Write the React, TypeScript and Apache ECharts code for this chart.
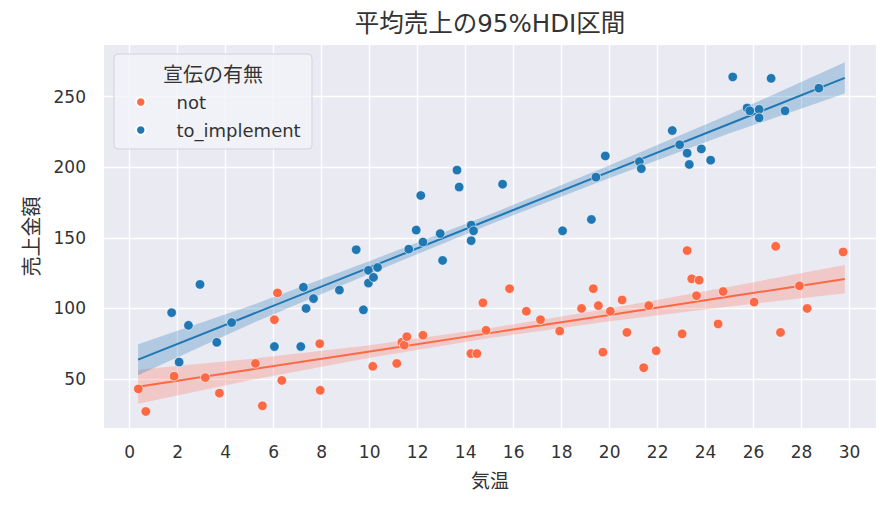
import React, { useEffect, useRef } from "react";
import * as echarts from "echarts";

// ---- data ----
const notX = [0.36, 0.67, 1.85, 3.15, 3.74, 5.24, 5.53, 6.03, 6.16, 6.34, 7.92, 7.94, 10.13, 11.13, 11.34, 11.44, 11.55, 12.22, 14.22, 14.47, 14.72, 14.85, 15.83, 16.53, 17.12, 17.92, 18.83, 19.32, 19.53, 19.72, 20.03, 20.52, 20.72, 21.42, 21.63, 21.94, 23.02, 23.23, 23.42, 23.62, 23.73, 24.52, 24.73, 26.02, 26.92, 27.12, 27.91, 28.23, 29.73];
const notY = [43, 27, 52, 51, 40, 61, 31, 92, 111, 49, 75, 42, 59, 61, 76, 74, 80, 81, 68, 68, 104, 84.5, 114, 98, 92, 84, 100, 114, 102, 69, 98, 106, 83, 58, 102, 70, 82, 141, 121, 109, 120, 89, 112, 104.5, 144, 83, 116, 100, 140];

const implX = [1.75, 2.06, 2.45, 2.93, 3.63, 4.25, 6.03, 7.13, 7.24, 7.35, 7.66, 8.74, 9.44, 9.74, 9.95, 9.95, 10.16, 10.33, 11.63, 11.94, 12.13, 12.22, 12.94, 13.04, 13.64, 13.73, 14.23, 14.23, 14.33, 15.54, 18.04, 19.24, 19.43, 19.82, 21.24, 21.32, 22.61, 22.92, 23.23, 23.32, 23.82, 24.21, 25.13, 25.73, 25.84, 26.23, 26.23, 26.73, 27.31, 28.72];
const implY = [97, 62, 88, 117, 76, 90, 73, 73, 115, 100, 107, 113, 141.6, 99, 127, 118, 122, 129, 142, 155.5, 180, 147, 153, 134, 198, 186, 159, 148, 155, 188, 155, 163, 193, 208, 204, 199, 226, 216, 210, 202, 213, 205, 264, 242, 240, 241, 235, 263, 240, 256];

const fitX = [0.35, 5, 10, 15, 20, 25, 29.8];
const implMean = [63.7, 95.2, 129.1, 163, 196.9, 230.8, 263.3];
const implLo = [52.7, 88.7, 124.6, 159.5, 192.4, 224, 252.3];
const implHi = [74.7, 101.7, 133.6, 166.5, 201.4, 237.5, 274.3];
const notMean = [44.5, 56.6, 69.5, 82.5, 95.4, 108.4, 120.8];
const notLo = [32.5, 49.1, 65, 79, 90.9, 101.4, 110.8];
const notHi = [56.5, 64.1, 74, 86, 99.9, 115.4, 130.8];

const xTicks = [0, 2, 4, 6, 8, 10, 12, 14, 16, 18, 20, 22, 24, 26, 28, 30];
const yTicks = [50, 100, 150, 200, 250];

const seriesNames = ["not", "to_implement"];
const titleText = "平均売上の95%HDI区間";
const legendTitle = "宣伝の有無";
const xName = "気温";
const yName = "売上金額";

const RED = "#fd6845";
const BLUE = "#1f77b4";
const FONT = "'DejaVu Sans', 'Noto Sans CJK JP', sans-serif";
const TEXT = "#333333";

function bandSeries(name: string, lo: number[], hi: number[], color: string) {
  const data = fitX.map((x, i) => [x, lo[i], hi[i]]);
  return {
    type: "custom",
    name,
    silent: true,
    z: 1,
    data,
    encode: { x: 0, y: [1, 2] },
    renderItem: (params: any, api: any) => {
      if (params.dataIndex !== 0) return null;
      const upper = data.map((d) => api.coord([d[0], d[2]]));
      const lower = data.map((d) => api.coord([d[0], d[1]])).reverse();
      return {
        type: "polygon",
        shape: { points: upper.concat(lower) },
        style: { fill: color },
      };
    },
  };
}

export default function App() {
  const ref = useRef<HTMLDivElement>(null);

  useEffect(() => {
    if (!ref.current) return;
    const chart = echarts.init(ref.current, undefined, { renderer: "svg" });
    const option: any = {
      animation: false,
      textStyle: { fontFamily: FONT },
      title: {
        text: titleText,
        left: 490,
        top: 11,
        padding: 0,
        textAlign: "center",
        textStyle: { fontSize: 24.5, fontWeight: "normal", color: TEXT, fontFamily: FONT },
      },
      grid: {
        left: 104,
        right: 20,
        top: 45,
        bottom: 78,
        show: true,
        backgroundColor: "#EAEAF2",
        borderWidth: 0,
      },
      xAxis: {
        type: "value",
        min: -1.07,
        max: 31.1,
        name: xName,
        nameLocation: "middle",
        nameGap: 43,
        nameTextStyle: { fontSize: 19, color: TEXT, fontFamily: FONT },
        axisLine: { show: false },
        axisTick: { show: false, customValues: xTicks },
        axisLabel: { customValues: xTicks, fontSize: 17, color: TEXT, margin: 15, fontFamily: FONT },
        splitLine: { show: true, lineStyle: { color: "#ffffff", width: 1.3 } },
      },
      yAxis: {
        type: "value",
        min: 15.3,
        max: 286.6,
        name: yName,
        nameLocation: "middle",
        nameGap: 62,
        nameTextStyle: { fontSize: 20, color: TEXT, fontFamily: FONT },
        axisLine: { show: false },
        axisTick: { show: false, customValues: yTicks },
        axisLabel: { customValues: yTicks, fontSize: 17, color: TEXT, margin: 18, fontFamily: FONT },
        splitLine: { show: true, lineStyle: { color: "#ffffff", width: 1.3 } },
      },
      legend: {
        data: seriesNames.map((n) => ({ name: n, icon: "circle" })),
        orient: "vertical",
        left: 135,
        top: 93,
        padding: 0,
        itemWidth: 9.5,
        itemHeight: 9.5,
        itemGap: 10,
        z: 10,
        textStyle: { fontSize: 18, color: TEXT, fontFamily: FONT, padding: [0, 0, 0, 26], lineHeight: 18 },
      },
      graphic: [
        {
          type: "rect",
          z: 9,
          shape: { x: 114, y: 54, width: 198, height: 95, r: 4 },
          style: { fill: "rgba(242,243,248,0.85)", stroke: "#d2d3db", lineWidth: 1 },
        },
        {
          type: "text",
          z: 10,
          x: 213,
          y: 75,
          style: {
            text: legendTitle,
            fontSize: 20,
            fontFamily: FONT,
            fill: TEXT,
            align: "center",
            verticalAlign: "middle",
          },
        },
      ],
      series: [
        bandSeries("not HDI", notLo, notHi, "rgba(255,99,71,0.25)"),
        bandSeries("to_implement HDI", implLo, implHi, "rgba(31,119,180,0.27)"),
        {
          type: "line",
          name: "not mean",
          data: fitX.map((x, i) => [x, notMean[i]]),
          showSymbol: false,
          silent: true,
          z: 2,
          lineStyle: { color: RED, width: 2 },
          itemStyle: { color: RED },
        },
        {
          type: "line",
          name: "to_implement mean",
          data: fitX.map((x, i) => [x, implMean[i]]),
          showSymbol: false,
          silent: true,
          z: 2,
          lineStyle: { color: BLUE, width: 2 },
          itemStyle: { color: BLUE },
        },
        {
          type: "scatter",
          name: "not",
          data: notX.map((x, i) => [x, notY[i]]),
          symbolSize: 9.5,
          z: 3,
          itemStyle: { color: RED, borderColor: "#ffffff", borderWidth: 0.6, opacity: 1 },
        },
        {
          type: "scatter",
          name: "to_implement",
          data: implX.map((x, i) => [x, implY[i]]),
          symbolSize: 9.5,
          z: 3,
          itemStyle: { color: BLUE, borderColor: "#ffffff", borderWidth: 0.6, opacity: 1 },
        },
      ],
    };
    chart.setOption(option);
    return () => chart.dispose();
  }, []);

  return (
    <div
      ref={ref}
      style={{ position: "absolute", left: 0, top: 0, width: 896, height: 506, background: "#ffffff" }}
    />
  );
}
